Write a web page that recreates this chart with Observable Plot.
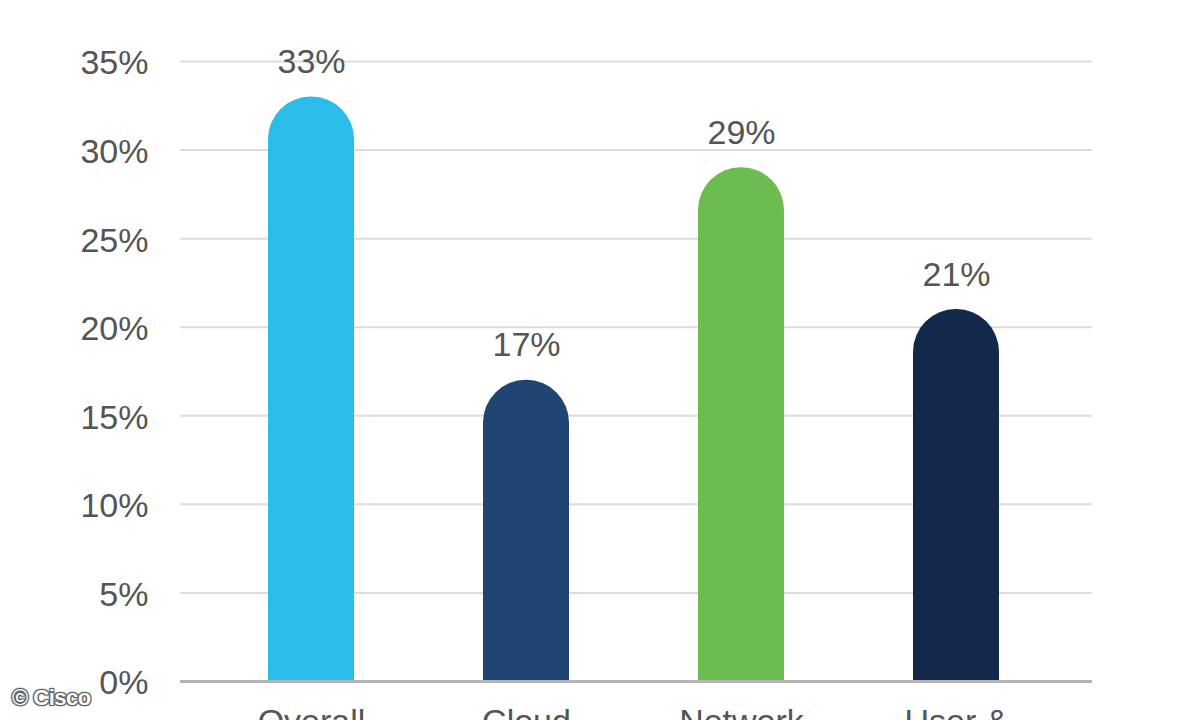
<!DOCTYPE html>
<html>
<head>
<meta charset="utf-8">
<script src="https://cdn.jsdelivr.net/npm/d3@7"></script>
<script src="https://cdn.jsdelivr.net/npm/@observablehq/plot@0.6"></script>
<style>
  html, body { margin: 0; padding: 0; background: #fff; overflow: hidden; }
  #wrap { position: relative; width: 1200px; height: 720px; }
  #credit {
    position: absolute; left: 12px; top: 685px;
    font: bold 22px "Liberation Sans", Arial, sans-serif;
    color: #fff; letter-spacing: -0.5px;
    text-shadow: 0 0 1px #555, 1px 1px 1px #555, -1px -1px 1px #555, 1px -1px 1px #555, -1px 1px 1px #555;
  }
</style>
</head>
<body>
<div id="wrap"><div id="credit">© Cisco</div></div>
<script>
const categories = ["Overall", "Cloud", "Network", "User &"];
const values = [33, 17, 29, 21];
const colors = ["#2bbde9", "#1f4572", "#6dbc50", "#13294b"];
const yTicks = [0, 5, 10, 15, 20, 25, 30, 35];

const data = categories.map((c, i) => ({category: c, value: values[i], color: colors[i]}));

const font = "'Liberation Sans', Arial, sans-serif";

const chart = Plot.plot({
  width: 1200,
  height: 720,
  marginLeft: 180,
  marginRight: 108,
  marginTop: 61,
  marginBottom: 39,
  style: {fontFamily: font, background: "#fff", overflow: "visible"},
  x: {domain: categories, paddingInner: 0.6, paddingOuter: 0.3, insetLeft: 23, insetRight: 29, label: null},
  y: {domain: [0, 35], label: null},
  marks: [
    Plot.ruleY(yTicks.filter(d => d > 0), {stroke: "#dcdcdc", strokeWidth: 2}),
    Plot.barY(data, {x: "category", y: "value", fill: "color", rx: 42.75}),
    Plot.barY(data, {x: "category", y1: 0, y2: d => d.value / 2, fill: "color"}),
    Plot.ruleY([0], {stroke: "#b3b3b3", strokeWidth: 3}),
    Plot.text(data, {x: "category", y: "value", text: d => d.value + "%", lineAnchor: "bottom", dy: -24, fontSize: 34, fill: "#555"}),
    Plot.axisY({ticks: yTicks, tickFormat: d => d + "%", tickSize: 0, tickPadding: 32, fontSize: 34, color: "#555", dy: 2, label: null}),
    Plot.axisX({tickSize: 0, tickPadding: 27, fontSize: 34, color: "#555", label: null})
  ]
});

document.getElementById("wrap").prepend(chart);
</script>
</body>
</html>
